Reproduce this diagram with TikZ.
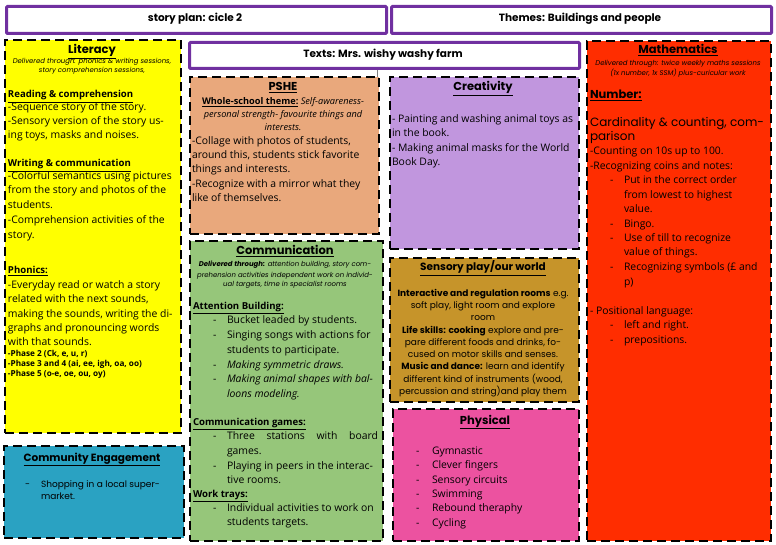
\documentclass[tikz,border=0pt]{standalone}
\usepackage{fontspec}
\setmainfont{Open Sans}
\newfontfamily\hd{Poppins}
\definecolor{purpleB}{RGB}{112,48,160}
\definecolor{yellowF}{RGB}{255,255,0}
\definecolor{tealF}{RGB}{42,162,194}
\definecolor{peachF}{RGB}{233,168,124}
\definecolor{greenF}{RGB}{150,198,122}
\definecolor{lavF}{RGB}{193,150,222}
\definecolor{ochreF}{RGB}{198,148,42}
\definecolor{pinkF}{RGB}{236,82,160}
\definecolor{redF}{RGB}{255,45,0}
\newcommand\Lft[5][]{\node[tl,anchor=base west,#1] (#2) at (#3,#4) {#5};}
\newcommand\Ctr[5][]{\node[tl,anchor=base,#1] (#2) at (#3,#4) {#5};}
\tikzset{
  tl/.style={inner sep=0pt, outer sep=0pt, font=\fontsize{10.4}{12}\selectfont},
  hdt/.style={font=\hd\bfseries\fontsize{11.5}{13}\selectfont},
  del/.style={font=\hd\itshape\fontsize{6.9}{8}\selectfont},
  sub/.style={font=\bfseries\fontsize{9.6}{11}\selectfont},
  ph/.style={font=\bfseries\fontsize{8.2}{9}\selectfont},
  cg/.style={font=\hd\fontsize{9}{11}\selectfont},
  dbox/.style={draw=black, line width=2.3pt, dash pattern=on 9pt off 5pt, inner sep=0pt, anchor=north west},
  pbox/.style={draw=purpleB, line width=3pt, fill=white, rounded corners=1pt, inner sep=0pt, anchor=north west},
}
\begin{document}
\begin{tikzpicture}[x=1pt,y=-1pt]
\useasboundingbox (0,0) rectangle (776,545);
\fill[white] (0,0) rectangle (776,545);
% ---------- header boxes
\node[pbox, minimum width=380pt, minimum height=27pt] (planB) at (5,5) {};
\node[pbox, minimum width=380pt, minimum height=27pt] (themeB) at (390,5) {};
\Ctr[font=\hd\bfseries\fontsize{10.5}{12}\selectfont]{planT}{195}{22}{story plan: cicle 2}
\Ctr[font=\hd\bfseries\fontsize{10.5}{12}\selectfont]{themeT}{580}{22}{Themes: Buildings and people}
% ---------- boxes
\node[dbox, fill=yellowF, minimum width=176pt, minimum height=393pt] (litB) at (4,39) {};
\node[dbox, fill=tealF, minimum width=180pt, minimum height=92pt] (comB) at (3,445) {};
\node[pbox, minimum width=390pt, minimum height=26pt] (textsB) at (188,41) {};
\Ctr[font=\hd\bfseries\fontsize{10.5}{12}\selectfont]{textsT}{383}{58}{Texts: Mrs. wishy washy farm}
\coordinate (tick) at (377,77);
\draw[gray, line width=0.8pt] (textsB.south -| tick) -- (tick);
\node[dbox, fill=peachF, minimum width=189pt, minimum height=157pt] (psheB) at (189,76) {};
\node[dbox, fill=greenF, minimum width=193pt, minimum height=300pt] (commB) at (189,240) {};
\node[dbox, fill=lavF, minimum width=189pt, minimum height=172pt] (creB) at (389,76) {};
\node[dbox, fill=ochreF, minimum width=189pt, minimum height=144pt] (senB) at (389,257) {};
\node[dbox, fill=pinkF, minimum width=186pt, minimum height=132pt] (phyB) at (392,408) {};
\node[dbox, fill=redF, minimum width=184pt, minimum height=500pt] (matB) at (586,40) {};
% ---------- Literacy
\Ctr[hdt]{litT}{92}{54}{\underline{Literacy}}
\Ctr[del]{litD1}{92}{64}{Delivered through: phonics \& writing sessions,}
\Ctr[del]{litD2}{92}{73}{story comprehension sessions,}
\Lft[sub]{litR}{8}{98}{\underline{Reading \& comprehension}}
\Lft{litR1}{8}{111}{-Sequence story of the story.}
\Lft{litR2}{8}{125}{-Sensory version of the story us-}
\Lft{litR3}{8}{139}{ing toys, masks and noises.}
\Lft[sub]{litW}{8}{167}{\underline{Writing \& communication}}
\Lft{litW1}{8}{180}{-Colorful semantics using pictures}
\Lft{litW2}{8}{194}{from the story and photos of the}
\Lft{litW3}{8}{209}{students.}
\Lft{litW4}{8}{224}{-Comprehension activities of the}
\Lft{litW5}{8}{239}{story.}
\Lft[sub]{litP}{8}{274}{\underline{Phonics:}}
\Lft{litP1}{8}{288}{-Everyday read or watch a story}
\Lft{litP2}{8}{302}{related with the next sounds,}
\Lft{litP3}{8}{317}{making the sounds, writing the di-}
\Lft{litP4}{8}{331}{graphs and pronouncing words}
\Lft{litP5}{8}{345}{with that sounds.}
\Lft[ph]{litF1}{8}{356}{-Phase 2 (Ck, e, u, r)}
\Lft[ph]{litF2}{8}{366}{-Phase 3 and 4 (ai, ee, igh, oa, oo)}
\Lft[ph]{litF3}{8}{376}{-Phase 5 (o-e, oe, ou, oy)}
% ---------- Community
\Ctr[font=\hd\bfseries\fontsize{10.5}{12}\selectfont]{comT}{92}{461}{\underline{Community Engagement}}
\Lft[cg]{comD}{25}{487}{-}
\Lft[cg]{comL1}{41}{487}{Shopping in a local super-}
\Lft[cg]{comL2}{41}{499}{market.}
% ---------- PSHE
\Ctr[hdt]{psT}{283}{91}{\underline{PSHE}}
\Ctr[font=\fontsize{9.2}{11}\selectfont]{psS1}{283}{105}{\textbf{\underline{Whole-school theme:}} \textit{Self-awareness-}}
\Ctr[font=\itshape\fontsize{9.2}{11}\selectfont]{psS2}{283}{118}{personal strength- favourite things and}
\Ctr[font=\itshape\fontsize{9.2}{11}\selectfont]{psS3}{283}{131}{interests.}
\Lft{psL1}{192}{145}{-Collage with photos of students,}
\Lft{psL2}{192}{159}{around this, students stick favorite}
\Lft{psL3}{192}{173}{things and interests.}
\Lft{psL4}{192}{188}{-Recognize with a mirror what they}
\Lft{psL5}{192}{202}{like of themselves.}
% ---------- Communication
\Ctr[hdt]{cmT}{285}{255}{\underline{Communication}}
\Ctr[del]{cmD1}{285}{267}{\textbf{Delivered through:} attention building, story com-}
\Ctr[del]{cmD2}{285}{277}{prehension activities independent work on individ-}
\Ctr[del]{cmD3}{285}{287}{ual targets, time in specialist rooms}
\Lft[sub]{cmA}{193}{309}{\underline{Attention Building:}}
\Lft{cmA1d}{213}{323}{-}
\Lft{cmA1}{227}{323}{Bucket leaded by students.}
\Lft{cmA2d}{213}{338}{-}
\Lft{cmA2}{227}{338}{Singing songs with actions for}
\Lft{cmA3}{227}{353}{students to participate.}
\Lft{cmA4d}{213}{368}{-}
\Lft[font=\itshape\fontsize{10.4}{12}\selectfont]{cmA4}{227}{368}{Making symmetric draws.}
\Lft{cmA5d}{213}{382}{-}
\Lft[font=\itshape\fontsize{10.4}{12}\selectfont]{cmA5}{227}{382}{Making animal shapes with bal-}
\Lft[font=\itshape\fontsize{10.4}{12}\selectfont]{cmA6}{227}{397}{loons modeling.}
\Lft[sub]{cmG}{193}{425}{\underline{Communication games:}}
\Lft{cmG1d}{213}{439}{-}
\Lft{cmG1}{227}{439}{\makebox[151pt][s]{Three stations with board}}
\Lft{cmG2}{227}{454}{games.}
\Lft{cmG3d}{213}{469}{-}
\Lft{cmG3}{227}{469}{Playing in peers in the interac-}
\Lft{cmG4}{227}{483}{tive rooms.}
\Lft[sub]{cmW}{193}{497}{\underline{Work trays:}}
\Lft{cmW1d}{213}{511}{-}
\Lft{cmW1}{227}{511}{Individual activities to work on}
\Lft{cmW2}{227}{525}{students targets.}
% ---------- Creativity
\Ctr[hdt]{crT}{483}{91}{\underline{Creativity}}
\Lft{crL1}{392}{123}{- Painting and washing animal toys as}
\Lft{crL2}{392}{137}{in the book.}
\Lft{crL3}{392}{152}{- Making animal masks for the World}
\Lft{crL4}{392}{166}{Book Day.}
% ---------- Sensory
\Ctr[font=\hd\bfseries\fontsize{10.5}{12}\selectfont]{seT}{483}{271}{\underline{Sensory play/our world}}
\Ctr[cg]{seL1}{483}{297}{\textbf{Interactive and regulation rooms} e.g.}
\Ctr[cg]{seL2}{483}{308}{soft play, light room and explore}
\Ctr[cg]{seL3}{483}{320}{room}
\Ctr[cg]{seL4}{483}{333}{\textbf{Life skills: cooking} explore and pre-}
\Ctr[cg]{seL5}{483}{345}{pare different foods and drinks, fo-}
\Ctr[cg]{seL6}{483}{357}{cused on motor skills and senses.}
\Ctr[cg]{seL7}{483}{369}{\textbf{Music and dance:} learn and identify}
\Ctr[cg]{seL8}{483}{382}{different kind of instruments (wood,}
\Ctr[cg]{seL9}{483}{394}{percussion and string)and play them}
% ---------- Physical
\Ctr[hdt]{phT}{485}{424}{\underline{Physical}}
\Lft{phD1}{416}{454}{-}\Lft{phL1}{432}{454}{Gymnastic}
\Lft{phD2}{416}{468}{-}\Lft{phL2}{432}{468}{Clever fingers}
\Lft{phD3}{416}{483}{-}\Lft{phL3}{432}{483}{Sensory circuits}
\Lft{phD4}{416}{497}{-}\Lft{phL4}{432}{497}{Swimming}
\Lft{phD5}{416}{511}{-}\Lft{phL5}{432}{511}{Rebound theraphy}
\Lft{phD6}{416}{526}{-}\Lft{phL6}{432}{526}{Cycling}
% ---------- Mathematics
\Ctr[hdt]{maT}{678}{54}{\underline{Mathematics}}
\Ctr[del]{maD1}{678}{66}{Delivered through: twice weekly maths sessions}
\Ctr[del]{maD2}{678}{76}{(1x number, 1x SSM) plus-curicular work}
\Lft[font=\hd\bfseries\fontsize{11.5}{13}\selectfont]{maN}{590}{99}{\underline{Number:}}
\Lft[font=\hd\fontsize{12}{14}\selectfont]{maC1}{590}{127}{Cardinality \& counting, com-}
\Lft[font=\hd\fontsize{12}{14}\selectfont]{maC2}{590}{141}{parison}
\Lft{maL1}{590}{155}{-Counting on 10s up to 100.}
\Lft{maL2}{590}{170}{-Recognizing coins and notes:}
\Lft{maB1d}{610}{184}{-}\Lft{maB1}{624}{184}{Put in the correct order}
\Lft{maB2}{624}{199}{from lowest to highest}
\Lft{maB3}{624}{213}{value.}
\Lft{maB4d}{610}{228}{-}\Lft{maB4}{624}{228}{Bingo.}
\Lft{maB5d}{610}{242}{-}\Lft{maB5}{624}{242}{Use of till to recognize}
\Lft{maB6}{624}{256}{value of things.}
\Lft{maB7d}{610}{271}{-}\Lft{maB7}{624}{271}{Recognizing symbols (£ and}
\Lft{maB8}{624}{286}{p)}
\Lft{maP}{590}{314}{- Positional language:}
\Lft{maP1d}{610}{328}{-}\Lft{maP1}{624}{328}{left and right.}
\Lft{maP2d}{610}{343}{-}\Lft{maP2}{624}{343}{prepositions.}
\end{tikzpicture}
\end{document}
